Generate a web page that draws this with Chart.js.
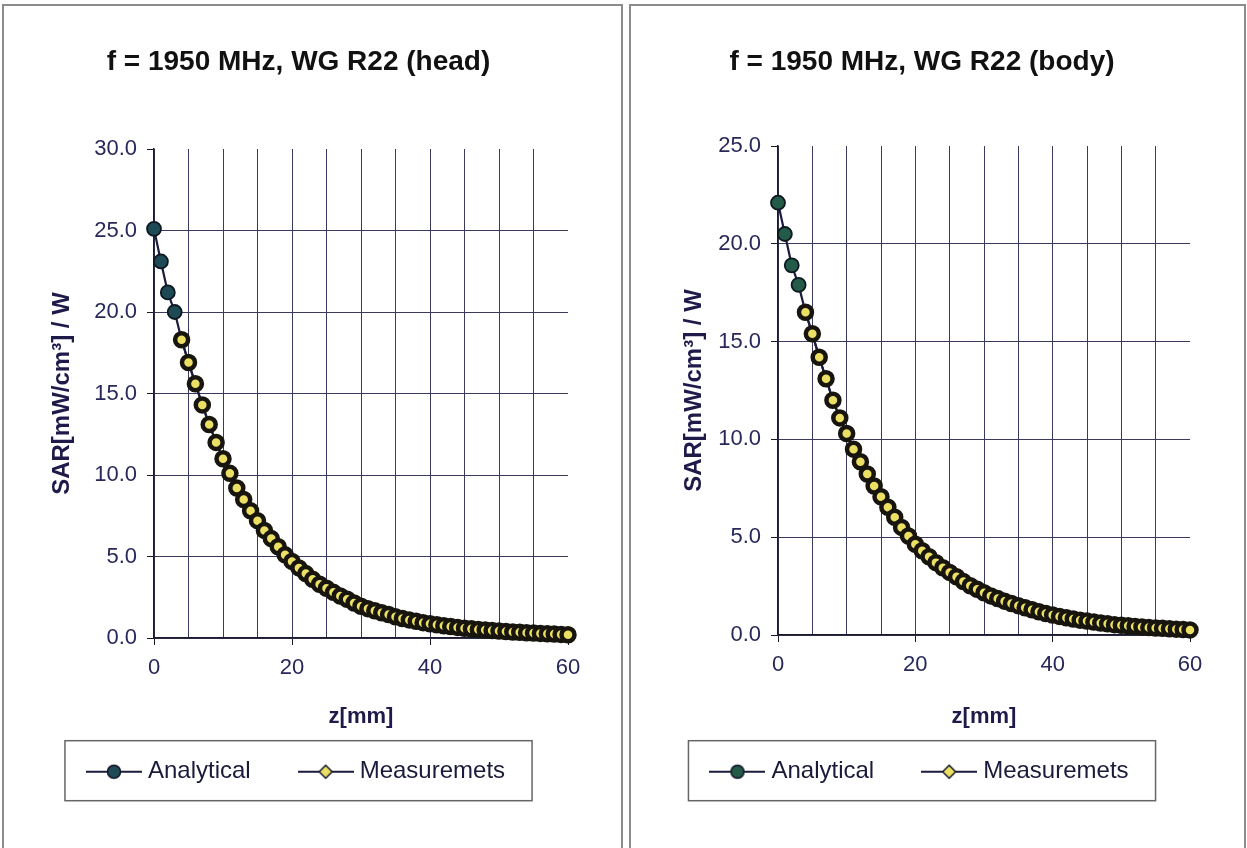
<!DOCTYPE html>
<html><head><meta charset="utf-8">
<script src="https://cdn.jsdelivr.net/npm/chart.js@4.4.1/dist/chart.umd.min.js"></script>
<style>
html,body{margin:0;padding:0;background:#fff;width:1247px;height:848px;overflow:hidden;}
.panel{position:absolute;border:2px solid #8c8c8c;box-sizing:border-box;background:#fff;}
#p1{left:2px;top:4px;width:621px;height:870px;}
#p2{left:629px;top:4px;width:617px;height:870px;}
.wrap{position:absolute;}
#w1{left:4px;top:6px;width:617px;height:842px;}
#w2{left:631px;top:6px;width:613px;height:842px;}
</style></head><body>
<div class="panel" id="p1"></div><div class="panel" id="p2"></div>
<div class="wrap" id="w1"><canvas id="c1"></canvas></div>
<div class="wrap" id="w2"><canvas id="c2"></canvas></div>
<script>
// ---- data ----
const zValues = [0,1,2,3,4,5,6,7,8,9,10,11,12,13,14,15,16,17,18,19,20,21,22,23,24,25,26,27,28,29,30,31,32,33,34,35,36,37,38,39,40,41,42,43,44,45,46,47,48,49,50,51,52,53,54,55,56,57,58,59,60];
const measuredZ = [4,5,6,7,8,9,10,11,12,13,14,15,16,17,18,19,20,21,22,23,24,25,26,27,28,29,30,31,32,33,34,35,36,37,38,39,40,41,42,43,44,45,46,47,48,49,50,51,52,53,54,55,56,57,58,59,60];
const headAnalytical = [25.1,23.1,21.2,20.0,18.3,16.9,15.6,14.3,13.1,12.0,11.0,10.1,9.2,8.5,7.8,7.2,6.6,6.1,5.6,5.1,4.7,4.3,3.95,3.6,3.3,3.05,2.8,2.58,2.38,2.15,1.95,1.8,1.67,1.55,1.44,1.3,1.2,1.11,1.02,0.94,0.87,0.81,0.75,0.7,0.65,0.6,0.56,0.52,0.49,0.46,0.43,0.4,0.37,0.35,0.32,0.3,0.28,0.26,0.24,0.22,0.2];
const headMeasured = [18.3,16.9,15.6,14.3,13.1,12.0,11.0,10.1,9.2,8.5,7.8,7.2,6.6,6.1,5.6,5.1,4.7,4.3,3.95,3.6,3.3,3.05,2.8,2.58,2.38,2.15,1.95,1.8,1.67,1.55,1.44,1.3,1.2,1.11,1.02,0.94,0.87,0.81,0.75,0.7,0.65,0.6,0.56,0.52,0.49,0.46,0.43,0.4,0.37,0.35,0.32,0.3,0.28,0.26,0.24,0.22,0.2];
const bodyAnalytical = [22.1,20.5,18.9,17.9,16.5,15.4,14.2,13.1,12.0,11.1,10.3,9.5,8.86,8.23,7.62,7.07,6.53,6.02,5.5,5.06,4.64,4.31,4.0,3.7,3.44,3.2,2.98,2.73,2.52,2.34,2.16,2.0,1.86,1.73,1.61,1.5,1.39,1.29,1.19,1.1,1.02,0.95,0.88,0.82,0.76,0.71,0.66,0.61,0.57,0.53,0.5,0.47,0.44,0.41,0.38,0.36,0.34,0.32,0.3,0.28,0.26];
const bodyMeasured = [16.5,15.4,14.2,13.1,12.0,11.1,10.3,9.5,8.86,8.23,7.62,7.07,6.53,6.02,5.5,5.06,4.64,4.31,4.0,3.7,3.44,3.2,2.98,2.73,2.52,2.34,2.16,2.0,1.86,1.73,1.61,1.5,1.39,1.29,1.19,1.1,1.02,0.95,0.88,0.82,0.76,0.71,0.66,0.61,0.57,0.53,0.5,0.47,0.44,0.41,0.38,0.36,0.34,0.32,0.3,0.28,0.26];
const seriesNames = ['Analytical','Measuremets'];
const titles = ['f = 1950 MHz, WG R22 (head)','f = 1950 MHz, WG R22 (body)'];
const xTitle = 'z[mm]';
const yTitle = 'SAR[mW/cm\u00B3] / W';
const xLabelTicks = [0,20,40,60];

// ---- styling ----
const FONT = "'Liberation Sans', Arial, sans-serif";
Chart.defaults.font.family = FONT;
const GRID = '#3a3a5e';
const TICKTXT = '#28285a';
const LINE = '#1b1b3e';
const YELLOW = '#ece064';

function legendIcon(fill, shape){
  const c = document.createElement('canvas'); c.width = 56; c.height = 18;
  const g = c.getContext('2d');
  g.strokeStyle = LINE; g.lineWidth = 2;
  g.beginPath(); g.moveTo(0,9); g.lineTo(56,9); g.stroke();
  g.fillStyle = fill; g.strokeStyle = '#141428'; g.lineWidth = 1.5;
  g.beginPath();
  if (shape === 'circle') g.arc(28,9,6.5,0,Math.PI*2);
  else { g.moveTo(28,2.5); g.lineTo(34.5,9); g.lineTo(28,15.5); g.lineTo(21.5,9); g.closePath(); }
  g.fill(); g.stroke();
  return c;
}

const legendBorder = {
  id: 'legendBorder',
  afterDraw(chart){
    const lg = chart.legend;
    if (!lg || !lg.legendHitBoxes || !lg.legendHitBoxes.length) return;
    const hb = lg.legendHitBoxes, f = hb[0], l = hb[hb.length-1];
    const cy = f.top + f.height/2;
    const ctx = chart.ctx;
    ctx.save();
    ctx.strokeStyle = '#666'; ctx.lineWidth = 1.5;
    ctx.strokeRect(f.left - 27, cy - 31, (l.left + l.width + 27) - (f.left - 27), 60);
    ctx.restore();
  }
};

function makeChart(id, cfg){
  const ymax = cfg.ymax;
  return new Chart(document.getElementById(id), {
    type: 'line',
    data: { datasets: [
      { label: seriesNames[0], data: zValues.map((z,i)=>({x:z, y:cfg.analytical[i]})),
        borderColor: LINE, borderWidth: 2.2, pointStyle: 'circle', pointRadius: 7,
        pointBackgroundColor: cfg.aFill, pointBorderColor: '#0e1820', pointBorderWidth: 1.8,
        tension: 0, order: 1, clip: false },
      { label: seriesNames[1], data: measuredZ.map((z,i)=>({x:z, y:cfg.measured[i]})),
        borderColor: LINE, borderWidth: 2.2, pointStyle: 'circle', pointRadius: 6.5,
        pointBackgroundColor: YELLOW, pointBorderColor: '#17150e', pointBorderWidth: 4.5,
        tension: 0, order: 0, clip: false }
    ]},
    options: {
      responsive: true, maintainAspectRatio: false, animation: false, devicePixelRatio: 1,
      layout: { padding: { left: cfg.padL, right: cfg.padR, top: 0, bottom: 54.3 } },
      plugins: {
        tooltip: { enabled: false },
        title: { display: true, text: cfg.title, color: '#111',
          font: { size: 28, weight: 'bold', family: FONT }, padding: { top: 39.2, bottom: cfg.titlePB } },
        legend: { position: 'bottom',
          labels: { usePointStyle: true, pointStyleWidth: 44, padding: 53, color: '#1a1a3a',
            font: { size: 24, family: FONT },
            generateLabels: () => [
              { text: seriesNames[0], pointStyle: legendIcon(cfg.aFill,'circle'), fillStyle: cfg.aFill, strokeStyle: LINE, lineWidth: 0, hidden: false, datasetIndex: 0, fontColor: '#1a1a3a' },
              { text: seriesNames[1], pointStyle: legendIcon(YELLOW,'diamond'), fillStyle: YELLOW, strokeStyle: LINE, lineWidth: 0, hidden: false, datasetIndex: 1, fontColor: '#1a1a3a' }
            ] } }
      },
      scales: {
        x: { type: 'linear', min: 0, max: 60,
          afterFit: s => { s.height = cfg.xH; },
          border: { display: true, color: '#1a1a2a', width: 1.5 },
          grid: { drawOnChartArea: true, tickLength: 7,
            color: c => (c.tick && c.tick.value === 60) ? 'rgba(0,0,0,0)' : GRID,
            tickColor: c => (c.tick && xLabelTicks.includes(c.tick.value)) ? '#1a1a2a' : 'rgba(0,0,0,0)' },
          ticks: { stepSize: 5, autoSkip: false, maxRotation: 0, padding: 10, color: TICKTXT,
            font: { size: 22, family: FONT },
            callback: v => xLabelTicks.includes(v) ? String(v) : '' },
          title: { display: true, text: xTitle, color: '#1e1a4a', font: { size: 22, weight: 'bold', family: FONT },
            padding: { top: 0, bottom: -23.5 } } },
        y: { min: 0, max: ymax,
          afterFit: s => { s.width = cfg.yW; },
          border: { display: true, color: '#1a1a2a', width: 1.5 },
          grid: { tickLength: 7,
            color: c => (c.tick && c.tick.value === ymax) ? 'rgba(0,0,0,0)' : GRID,
            tickColor: '#1a1a2a' },
          ticks: { stepSize: 5, padding: 10, color: TICKTXT, font: { size: 22, family: FONT },
            callback: v => Number(v).toFixed(1) },
          title: { display: true, text: yTitle, color: '#1e1a4a', font: { size: 24, weight: 'bold', family: FONT },
            padding: { top: cfg.yTitleTop, bottom: 0 } } }
      }
    },
    plugins: [legendBorder]
  });
}

makeChart('c1', { title: titles[0], analytical: headAnalytical, measured: headMeasured, ymax: 30,
  aFill: '#1e4a56', padL: 25, padR: 53, yW: 125, xH: 68.7, titlePB: 70.2, yTitleTop: 18.6 });
makeChart('c2', { title: titles[1], analytical: bodyAnalytical, measured: bodyMeasured, ymax: 25,
  aFill: '#245a48', padL: 23, padR: 54, yW: 124, xH: 71.7, titlePB: 67.2, yTitleTop: 25.6 });
</script>
</body></html>
